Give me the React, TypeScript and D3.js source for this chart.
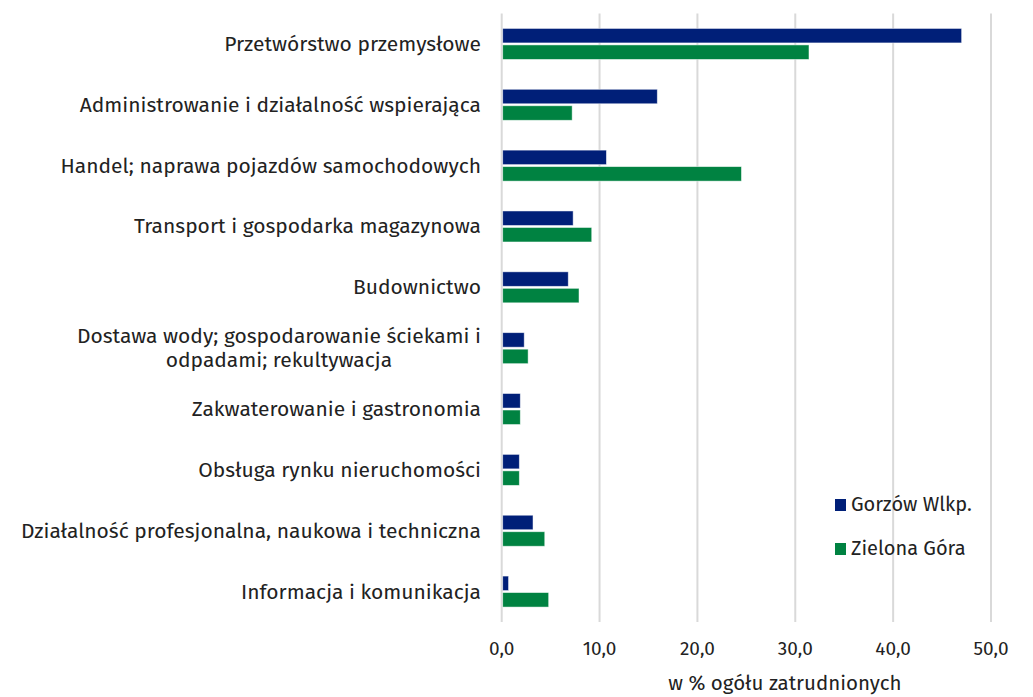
import { useEffect, useRef } from "react";
import * as d3 from "d3";

const categories = [
  ["Przetwórstwo przemysłowe"],
  ["Administrowanie i działalność wspierająca"],
  ["Handel; naprawa pojazdów samochodowych"],
  ["Transport i gospodarka magazynowa"],
  ["Budownictwo"],
  ["Dostawa wody; gospodarowanie ściekami i", "odpadami; rekultywacja"],
  ["Zakwaterowanie i gastronomia"],
  ["Obsługa rynku nieruchomości"],
  ["Działalność profesjonalna, naukowa i techniczna"],
  ["Informacja i komunikacja"],
];
const gorzow = [47.0, 15.9, 10.7, 7.3, 6.8, 2.3, 1.9, 1.8, 3.2, 0.7];
const zielona = [31.4, 7.2, 24.5, 9.2, 7.9, 2.7, 1.9, 1.8, 4.4, 4.8];
const seriesNames = ["Gorzów Wlkp.", "Zielona Góra"];
const ticks = [0, 10, 20, 30, 40, 50];

const W = 1033;
const H = 697;
const FONT = "'Fira Sans', 'Noto Sans', sans-serif";
const colors = ["#001f78", "#008241"];

export default function App() {
  const ref = useRef<SVGSVGElement>(null);

  useEffect(() => {
    const svg = d3.select(ref.current);
    svg.selectAll("*").remove();

    const margin = { top: 13.5, left: 501.7, right: 42, bottom: 75 };
    const x = d3.scaleLinear().domain([0, 50]).range([margin.left, W - margin.right]);
    const y = d3
      .scaleBand<number>()
      .domain(d3.range(categories.length))
      .range([margin.top, H - margin.bottom]);

    // gridlines
    svg
      .append("g")
      .selectAll("line")
      .data(ticks)
      .join("line")
      .attr("x1", (d) => x(d))
      .attr("x2", (d) => x(d))
      .attr("y1", margin.top)
      .attr("y2", H - margin.bottom)
      .attr("stroke", "#d9d9d9")
      .attr("stroke-width", 2);

    // tick labels
    svg
      .append("g")
      .selectAll("text")
      .data(ticks)
      .join("text")
      .attr("x", (d) => x(d))
      .attr("y", 655)
      .attr("text-anchor", "middle")
      .style("font-family", FONT)
      .style("font-size", "19px")
      .attr("fill", "#222")
      .text((d) => d3.format(".1f")(d).replace(".", ","));

    svg
      .append("text")
      .attr("x", 785)
      .attr("y", 690)
      .attr("text-anchor", "middle")
      .style("font-family", FONT)
      .style("font-size", "20.5px")
      .attr("fill", "#222")
      .text("w % ogółu zatrudnionych");

    // bars
    const barH = 14.5;
    const gap = 2;
    const data = [gorzow, zielona];
    data.forEach((vals, si) => {
      svg
        .append("g")
        .selectAll("rect")
        .data(vals)
        .join("rect")
        .attr("x", x(0) + 1)
        .attr("y", (_, i) => y(i)! + y.bandwidth() / 2 - barH - gap / 2 + si * (barH + gap))
        .attr("width", (d) => x(d) - x(0) - 1)
        .attr("height", barH)
        .attr("fill", colors[si])
        .attr("stroke", "#ffffff")
        .attr("stroke-opacity", 0.6)
        .attr("stroke-width", 0.8);
    });

    // category labels
    const labelX = 481;
    const lineH = 24;
    const lab = svg.append("g");
    categories.forEach((lines, i) => {
      const cy = y(i)! + y.bandwidth() / 2;
      const t = lab
        .append("text")
        .style("font-family", FONT)
        .style("font-size", "21px")
        .attr("fill", "#222");
      lines.forEach((ln, j) => {
        t.append("tspan")
          .attr("x", labelX)
          .attr("y", cy + 7 + (j - (lines.length - 1) / 2) * lineH)
          .attr("text-anchor", "end")
          .text(ln);
      });
      if (lines.length > 1) {
        // wrapped label: lines centred within the right-aligned block
        const spans = t.selectAll<SVGTSpanElement, unknown>("tspan").nodes();
        const widths = spans.map((s) => s.getComputedTextLength());
        const maxW = d3.max(widths) ?? 0;
        spans.forEach((s) => {
          d3.select(s).attr("x", labelX - maxW / 2).attr("text-anchor", "middle");
        });
      }
    });

    // legend
    const leg = svg.append("g");
    seriesNames.forEach((name, i) => {
      const ly = 499 + i * 44;
      leg
        .append("rect")
        .attr("x", 835)
        .attr("y", ly)
        .attr("width", 11)
        .attr("height", 12)
        .attr("fill", colors[i]);
      leg
        .append("text")
        .attr("x", 851)
        .attr("y", ly + 12)
        .style("font-family", FONT)
        .style("font-size", "20px")
        .attr("fill", "#222")
        .text(name);
    });
  }, []);

  return (
    <svg
      ref={ref}
      width={W}
      height={H}
      style={{ position: "absolute", left: 0, top: 0, background: "#fff" }}
    />
  );
}
